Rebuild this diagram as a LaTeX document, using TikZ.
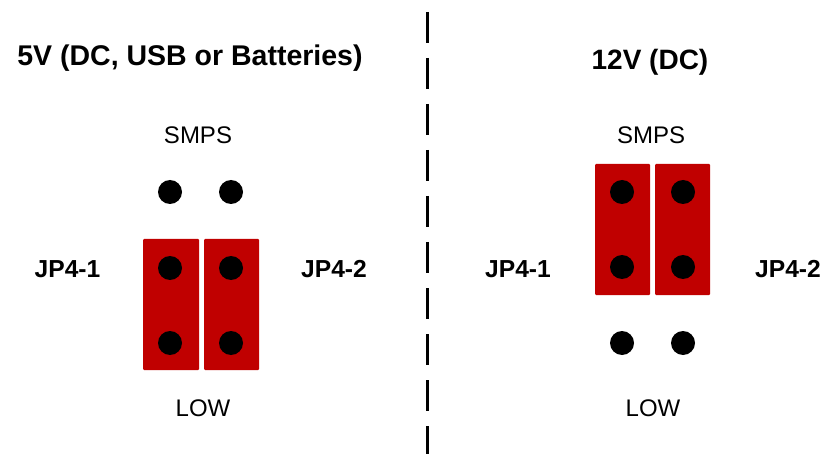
\documentclass[tikz,border=0pt]{standalone}
\usepackage{fontspec}
\setmainfont{Liberation Sans}
\definecolor{jred}{HTML}{C00000}
\begin{document}
\begin{tikzpicture}[x=1pt,y=-1pt,
  pin/.style={circle,fill=black,inner sep=0pt,minimum size=24pt},
  jumper/.style={fill=jred,draw=none,rounded corners=1pt},
  title/.style={font=\fontsize{28}{31}\selectfont\bfseries,anchor=base,inner sep=0pt},
  lbl/.style={font=\fontsize{24}{28}\selectfont,anchor=base,inner sep=0pt},
  blbl/.style={font=\fontsize{24.6}{28}\selectfont\bfseries,anchor=base,inner sep=0pt},
  sep/.style={line width=3pt,dash pattern=on 31pt off 15pt}]
\useasboundingbox (0,0) rectangle (824,454);
% divider
\coordinate (dtop) at (427,12);
\coordinate (dbot) at (427,454);
\draw[sep] (dtop) -- (dbot);
% left panel
\node[title,font=\fontsize{28.5}{32}\selectfont\bfseries] (t1) at (190,66) {5V (DC, USB or Batteries)};
\node[lbl] (s1) at (198,144) {SMPS};
\node[lbl] (l1) at (203,416) {LOW};
\node[blbl] (a1) at (67.5,277) {JP4-1};
\node[blbl] (b1) at (334,277) {JP4-2};
\fill[jumper] (143,239) rectangle (199,370);
\fill[jumper] (204,239) rectangle (259,370);
\node[pin] (p11) at (170,192) {};
\node[pin] (p12) at (231,192) {};
\node[pin] (p13) at (170,268) {};
\node[pin] (p14) at (231,268) {};
\node[pin] (p15) at (170,343) {};
\node[pin] (p16) at (231,343) {};
% right panel
\node[title] (t2) at (650,70) {12V (DC)};
\node[lbl] (s2) at (651,144) {SMPS};
\node[lbl] (l2) at (653,416) {LOW};
\node[blbl] (a2) at (518,277) {JP4-1};
\node[blbl] (b2) at (788,277) {JP4-2};
\fill[jumper] (595,164) rectangle (650,295);
\fill[jumper] (655,164) rectangle (710,295);
\node[pin] (p21) at (622,192) {};
\node[pin] (p22) at (683,192) {};
\node[pin] (p23) at (622,267) {};
\node[pin] (p24) at (683,267) {};
\node[pin] (p25) at (622,343) {};
\node[pin] (p26) at (683,343) {};
\end{tikzpicture}
\end{document}
